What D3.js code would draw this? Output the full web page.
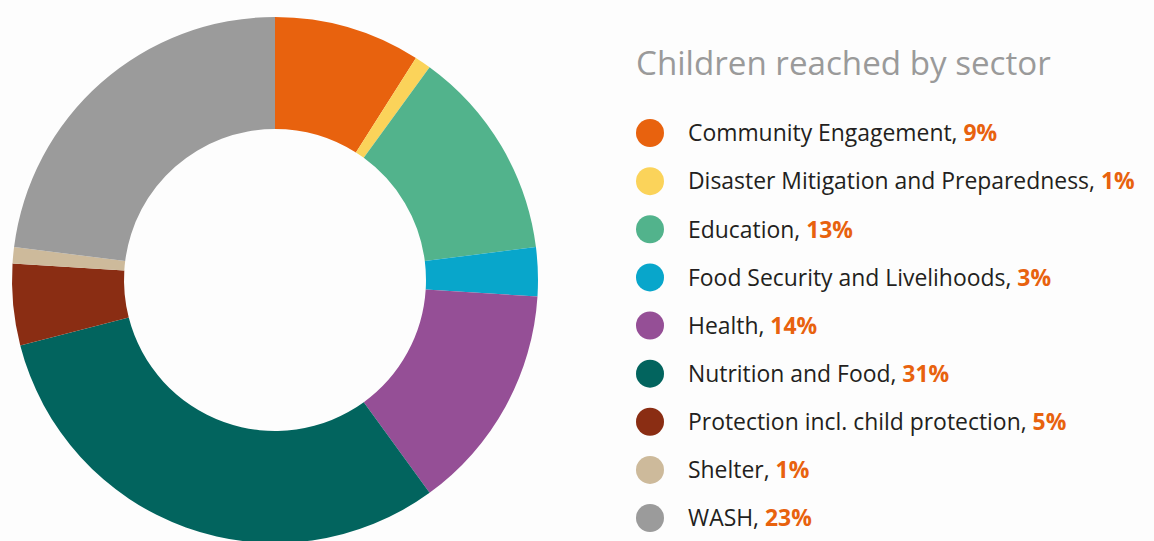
<!DOCTYPE html>
<html lang="en">
  <head>
    <meta charset="UTF-8" />
    <script src="https://d3js.org/d3.v7.min.js"></script>
    <title>Children reached by sector</title>
    <style>
      body { margin: 0; background: #fdfdfd; }
      svg { display: block; }
    </style>
  </head>
  <body>
    <div id="chart"></div>
    <script>
      // data
      const sectors = [
        "Community Engagement",
        "Disaster Mitigation and Preparedness",
        "Education",
        "Food Security and Livelihoods",
        "Health",
        "Nutrition and Food",
        "Protection incl. child protection",
        "Shelter",
        "WASH"
      ];
      const shares = [9, 1, 13, 3, 14, 31, 5, 1, 23];
      const colors = [
        "#e8620e", "#fbd35a", "#52b38c", "#08a6cb", "#954f96",
        "#02645e", "#8a2d13", "#cdba9b", "#9b9b9b"
      ];
      const title = "Children reached by sector";

      const width = 1154, height = 541;
      const svg = d3.select("#chart").append("svg")
        .attr("width", width)
        .attr("height", height);

      // donut
      const cx = 275, cy = 280, outerR = 263, innerR = 151;
      const pie = d3.pie().sort(null).value((d) => d);
      const arc = d3.arc().innerRadius(innerR).outerRadius(outerR);

      svg.append("g")
        .attr("transform", `translate(${cx}, ${cy})`)
        .selectAll("path")
        .data(pie(shares))
        .join("path")
        .attr("d", arc)
        .attr("fill", (d, i) => colors[i]);

      // legend
      const font = "'Open Sans', 'Noto Sans', sans-serif";
      const titleText = svg.append("text")
        .attr("x", 636)
        .attr("y", 75)
        .attr("fill", "#9a9a9a")
        .style("font-family", font)
        .style("font-size", "32px")
        .text(title);
      // fit the title to the width it has in the picture
      let tw = titleText.node().getComputedTextLength();
      titleText.style("font-size", (32 * 415 / tw) + "px");

      const y = d3.scalePoint()
        .domain(sectors)
        .range([133, 518]);

      const rows = svg.append("g")
        .selectAll("g")
        .data(sectors)
        .join("g")
        .attr("transform", (d) => `translate(0, ${y(d)})`);

      rows.append("circle")
        .attr("cx", 650)
        .attr("r", 14)
        .attr("fill", (d, i) => colors[i]);

      const labels = rows.append("text")
        .attr("x", 688)
        .attr("dy", "0.36em")
        .attr("fill", "#231f20")
        .style("font-family", font)
        .style("font-size", "22px");
      labels.append("tspan").text((d) => d + ", ");
      labels.append("tspan")
        .attr("fill", "#e8620e")
        .attr("font-weight", "bold")
        .text((d, i) => shares[i] + "%");

      // scale labels so the longest one ends where it does in the picture
      const longest = d3.max(labels.nodes(), (n) => n.getComputedTextLength());
      labels.style("font-size", (22 * 447 / longest) + "px");
    </script>
  </body>
</html>
